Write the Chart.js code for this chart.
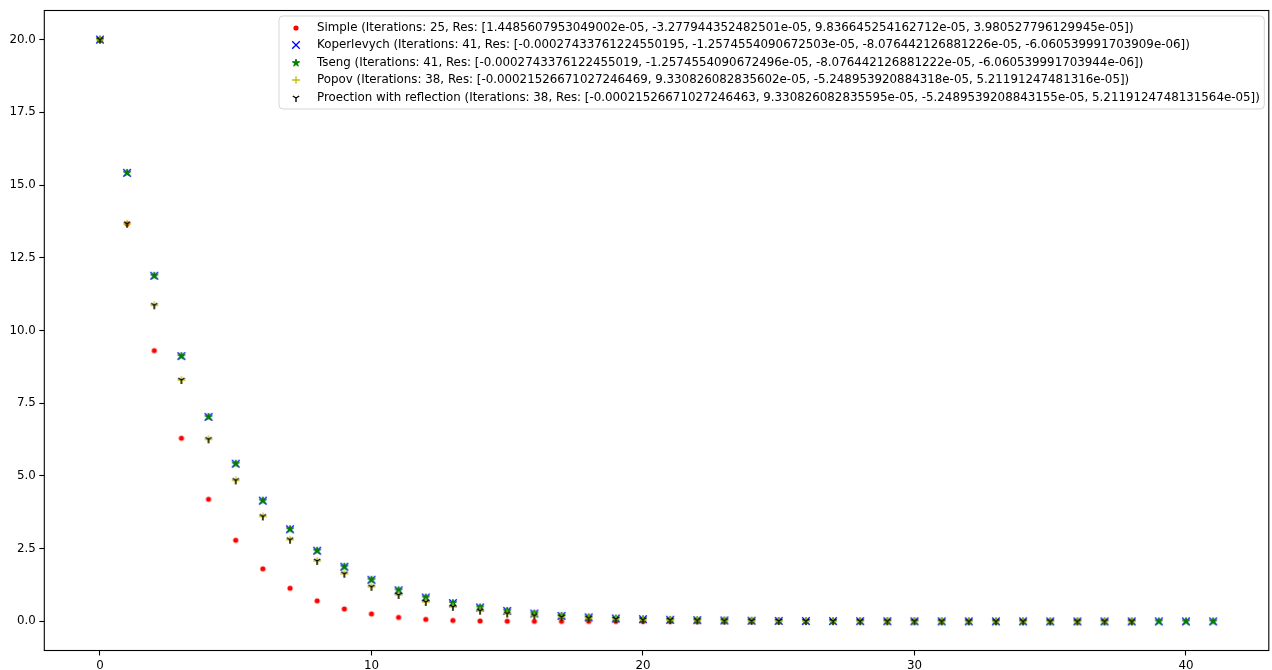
<!DOCTYPE html>
<html>
<head>
<meta charset="utf-8">
<script src="https://cdn.jsdelivr.net/npm/chart.js@4.4.1/dist/chart.umd.min.js"></script>
<style>
  html, body { margin: 0; padding: 0; background: #ffffff; }
  #wrap { width: 1272px; height: 670px; }
</style>
</head>
<body>
<div id="wrap"><canvas id="c" width="1272" height="670"></canvas></div>
<script>
// Residual norm per iteration for each method
const simpleVals = [20.0, 13.67, 9.31, 6.30, 4.20, 2.79, 1.81, 1.14, 0.71, 0.43,
  0.26, 0.14, 0.07, 0.035, 0.018, 0.009, 0.005, 0.003, 0.0016, 0.0009,
  0.0005, 0.0003, 0.00018, 0.0001, 0.00006, 0.00004];

const koperlevychVals = [20.0, 15.42, 11.88, 9.12, 7.03, 5.42, 4.15, 3.17, 2.43, 1.88,
  1.43, 1.07, 0.82, 0.63, 0.48, 0.36, 0.27, 0.19, 0.14, 0.10,
  0.075, 0.056, 0.042, 0.032, 0.024, 0.018, 0.014, 0.010, 0.0078, 0.0059,
  0.0044, 0.0033, 0.0025, 0.0019, 0.0014, 0.0011, 0.0008, 0.0006, 0.00046, 0.00035,
  0.00026, 0.0002];

const tsengVals = [20.0, 15.42, 11.88, 9.12, 7.03, 5.42, 4.15, 3.17, 2.43, 1.88,
  1.43, 1.07, 0.82, 0.63, 0.48, 0.36, 0.27, 0.19, 0.14, 0.10,
  0.075, 0.056, 0.042, 0.032, 0.024, 0.018, 0.014, 0.010, 0.0078, 0.0059,
  0.0044, 0.0033, 0.0025, 0.0019, 0.0014, 0.0011, 0.0008, 0.0006, 0.00046, 0.00035,
  0.00026, 0.0002];

const popovVals = [20.0, 13.67, 10.87, 8.30, 6.26, 4.85, 3.61, 2.81, 2.08, 1.64,
  1.19, 0.91, 0.67, 0.50, 0.37, 0.27, 0.20, 0.15, 0.11, 0.08,
  0.06, 0.045, 0.034, 0.025, 0.019, 0.014, 0.011, 0.008, 0.006, 0.0045,
  0.0034, 0.0025, 0.0019, 0.0014, 0.0011, 0.0008, 0.0006, 0.00045, 0.00034];

const reflectionVals = [20.0, 13.67, 10.87, 8.30, 6.26, 4.85, 3.61, 2.81, 2.08, 1.64,
  1.19, 0.91, 0.67, 0.50, 0.37, 0.27, 0.20, 0.15, 0.11, 0.08,
  0.06, 0.045, 0.034, 0.025, 0.019, 0.014, 0.011, 0.008, 0.006, 0.0045,
  0.0034, 0.0025, 0.0019, 0.0014, 0.0011, 0.0008, 0.0006, 0.00045, 0.00034];

const seriesLabels = [
  'Simple (Iterations: 25, Res: [1.4485607953049002e-05, -3.277944352482501e-05, 9.836645254162712e-05, 3.980527796129945e-05])',
  'Koperlevych (Iterations: 41, Res: [-0.00027433761224550195, -1.2574554090672503e-05, -8.076442126881226e-05, -6.060539991703909e-06])',
  'Tseng (Iterations: 41, Res: [-0.0002743376122455019, -1.2574554090672496e-05, -8.076442126881222e-05, -6.060539991703944e-06])',
  'Popov (Iterations: 38, Res: [-0.00021526671027246469, 9.330826082835602e-05, -5.248953920884318e-05, 5.21191247481316e-05])',
  'Proection with reflection (Iterations: 38, Res: [-0.00021526671027246463, 9.330826082835595e-05, -5.2489539208843155e-05, 5.2119124748131564e-05])'
];

const yTickValues = [0, 2.5, 5, 7.5, 10, 12.5, 15, 17.5, 20];
const xTickValues = [0, 10, 20, 30, 40];

const FONT = '"DejaVu Sans", sans-serif';
const FONT_PX = 11.85;

// ---- marker glyphs (drawn once into small canvases) ----
function markerCanvas(draw) {
  const c = document.createElement('canvas');
  c.width = 14; c.height = 14;
  const g = c.getContext('2d');
  g.translate(7, 7);
  draw(g);
  return c;
}

const markerDot = markerCanvas(g => {
  g.fillStyle = '#ff0000';
  g.beginPath(); g.arc(0, 0, 2.6, 0, Math.PI * 2); g.fill();
});

const markerX = markerCanvas(g => {
  const h = 3.8;
  g.strokeStyle = '#0000ff'; g.lineWidth = 1.3;
  g.beginPath();
  g.moveTo(-h, -h); g.lineTo(h, h);
  g.moveTo(-h, h); g.lineTo(h, -h);
  g.stroke();
});

const markerStar = markerCanvas(g => {
  const R = 3.9, r = R * 0.381966;
  g.fillStyle = '#008000'; g.strokeStyle = '#008000'; g.lineWidth = 1.0;
  g.beginPath();
  for (let k = 0; k < 10; k++) {
    const rad = (k % 2 === 0) ? R : r;
    const a = -Math.PI / 2 + k * Math.PI / 5;
    const px = rad * Math.cos(a), py = rad * Math.sin(a);
    if (k === 0) g.moveTo(px, py); else g.lineTo(px, py);
  }
  g.closePath(); g.fill(); g.stroke();
});

const markerPlus = markerCanvas(g => {
  const h = 3.8;
  g.strokeStyle = '#bfbf00'; g.lineWidth = 1.3;
  g.beginPath();
  g.moveTo(-h, 0); g.lineTo(h, 0);
  g.moveTo(0, -h); g.lineTo(0, h);
  g.stroke();
});

const markerTriDown = markerCanvas(g => {
  const R = 4.0;
  g.strokeStyle = '#000000'; g.lineWidth = 1.4;
  g.beginPath();
  g.moveTo(0, 0); g.lineTo(0, R);
  g.moveTo(0, 0); g.lineTo(0.8 * R, -0.5 * R);
  g.moveTo(0, 0); g.lineTo(-0.8 * R, -0.5 * R);
  g.stroke();
});

const seriesValues = [simpleVals, koperlevychVals, tsengVals, popovVals, reflectionVals];
const seriesMarkers = [markerDot, markerX, markerStar, markerPlus, markerTriDown];
const seriesColors = ['#ff0000', '#0000ff', '#008000', '#bfbf00', '#000000'];

const datasets = seriesValues.map((vals, i) => ({
  label: seriesLabels[i],
  data: vals.map((v, k) => ({ x: k, y: v })),
  pointStyle: seriesMarkers[i],
  pointRadius: 3,
  borderColor: seriesColors[i],
  backgroundColor: seriesColors[i],
  showLine: false,
  order: seriesValues.length - i   // later series are painted on top
}));

// axes frame on all four sides
const framePlugin = {
  id: 'frame',
  afterDatasetsDraw(chart) {
    const { ctx, chartArea: a } = chart;
    ctx.save();
    ctx.strokeStyle = '#000000';
    ctx.lineWidth = 1.1;
    ctx.strokeRect(a.left, a.top, a.right - a.left, a.bottom - a.top);
    ctx.restore();
  }
};

// boxed legend in the upper right corner of the plot
const boxLegendPlugin = {
  id: 'boxLegend',
  afterDraw(chart) {
    const { ctx, chartArea: a } = chart;
    ctx.save();
    ctx.font = FONT_PX + 'px ' + FONT;
    const rowH = 17.6;
    const padX = 16, markerW = 22;
    let textW = 0;
    chart.data.datasets.forEach(ds => { textW = Math.max(textW, ctx.measureText(ds.label).width); });
    const boxW = padX + markerW + textW + 4.5;
    const boxH = rowH * chart.data.datasets.length + 5;
    const right = a.right - 4.5;
    const left = right - boxW;
    const top = a.top + 5.5;
    const rr = 4;
    ctx.beginPath();
    ctx.moveTo(left + rr, top);
    ctx.lineTo(right - rr, top);
    ctx.arcTo(right, top, right, top + rr, rr);
    ctx.lineTo(right, top + boxH - rr);
    ctx.arcTo(right, top + boxH, right - rr, top + boxH, rr);
    ctx.lineTo(left + rr, top + boxH);
    ctx.arcTo(left, top + boxH, left, top + boxH - rr, rr);
    ctx.lineTo(left, top + rr);
    ctx.arcTo(left, top, left + rr, top, rr);
    ctx.closePath();
    ctx.fillStyle = 'rgba(255,255,255,0.8)';
    ctx.fill();
    ctx.strokeStyle = 'rgba(204,204,204,0.8)';
    ctx.lineWidth = 1;
    ctx.stroke();
    ctx.fillStyle = '#000000';
    ctx.textBaseline = 'middle';
    ctx.textAlign = 'left';
    chart.data.datasets.forEach((ds, i) => {
      const cy = top + 11.5 + i * rowH;
      const img = ds.pointStyle;
      ctx.drawImage(img, Math.round(left + padX + 1) - img.width / 2, Math.round(cy) - img.height / 2);
      ctx.fillText(ds.label, left + padX + markerW, cy);
    });
    ctx.restore();
  }
};

const tickFont = { family: FONT, size: FONT_PX };

new Chart(document.getElementById('c'), {
  type: 'scatter',
  data: { datasets },
  options: {
    responsive: false,
    animation: false,
    events: [],
    layout: { autoPadding: false, padding: { left: 0, right: 3.2, top: 10.5, bottom: 0 } },
    plugins: {
      legend: { display: false },
      tooltip: { enabled: false }
    },
    scales: {
      x: {
        type: 'linear',
        min: -2.05,
        max: 43.05,
        afterBuildTicks: s => { s.ticks = xTickValues.map(v => ({ value: v })); },
        afterFit: s => { s.height = 19.5; s.paddingLeft = 0; s.paddingRight = 0; },
        ticks: {
          font: tickFont, color: '#000000', padding: 3,
          callback: v => String(v)
        },
        grid: { drawOnChartArea: false, drawTicks: true, tickLength: 5, tickColor: '#000000', tickWidth: 1.1 },
        border: { display: false }
      },
      y: {
        type: 'linear',
        min: -1,
        max: 21,
        afterBuildTicks: s => { s.ticks = yTickValues.map(v => ({ value: v })); },
        afterFit: s => { s.width = 44.3; s.paddingTop = 0; s.paddingBottom = 0; },
        ticks: {
          font: tickFont, color: '#000000', padding: 3.5,
          callback: v => Number(v).toFixed(1)
        },
        grid: { drawOnChartArea: false, drawTicks: true, tickLength: 5, tickColor: '#000000', tickWidth: 1.1 },
        border: { display: false }
      }
    }
  },
  plugins: [framePlugin, boxLegendPlugin]
});
</script>
</body>
</html>
